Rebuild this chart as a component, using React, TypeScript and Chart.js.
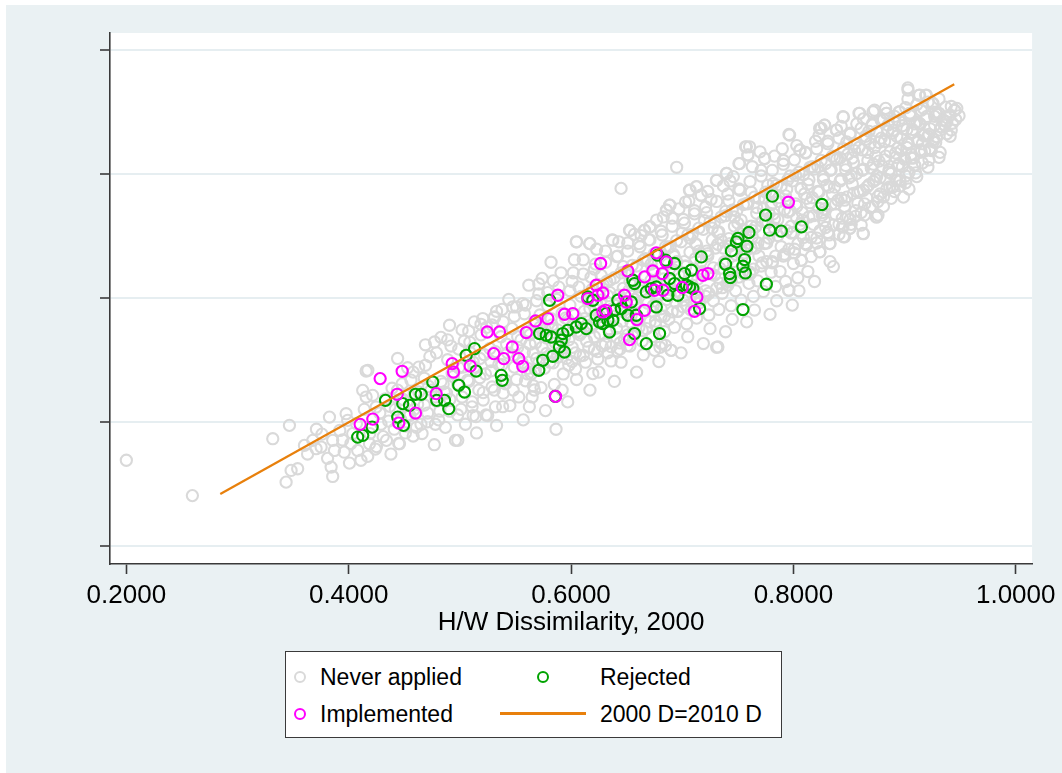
import React, { useEffect, useRef } from "react";
import { Chart, registerables } from "chart.js";

Chart.register(...registerables);

const xTicks = [0.2, 0.4, 0.6, 0.8, 1.0];
const yTicks = [0.2, 0.4, 0.6, 0.8, 1.0];
const xRange = [0.1853, 1.0147];
const yRange = [0.1718, 1.0274];
const xTitle = "H/W Dissimilarity, 2000";
const seriesNames = ["Never applied", "Rejected", "Implemented", "2000 D=2010 D"];
const equalityLineX = [0.2845, 0.9447];

const neverApplied: number[][] = [
  [0.2, 0.339], [0.2594, 0.282], [0.3317, 0.3737], [0.3467, 0.3952], [0.3437, 0.3037], [0.3541, 0.3253], [0.3482, 0.3226],
  [0.3602, 0.3629], [0.3677, 0.371], [0.3707, 0.3576], [0.3752, 0.3602], [0.3827, 0.4085], [0.3856, 0.371], [0.3872, 0.3548],
  [0.3842, 0.3279], [0.3856, 0.3129], [0.3977, 0.414], [0.3991, 0.4032], [0.4036, 0.3818], [0.4081, 0.3548], [0.4007, 0.3344],
  [0.4171, 0.3452], [0.4187, 0.3656], [0.4157, 0.4827], [0.4126, 0.4516], [0.4157, 0.4408], [0.4216, 0.4435], [0.4247, 0.4247],
  [0.4457, 0.3656], [0.4981, 0.371], [0.5145, 0.4092], [0.5235, 0.4119], [0.5385, 0.4253], [0.5625, 0.4253], [0.567, 0.4522],
  [0.5865, 0.3889], [0.3945, 0.3716], [0.4172, 0.4839], [0.4907, 0.5565], [0.4772, 0.5295], [0.5206, 0.5673], [0.5312, 0.5698],
  [0.5476, 0.586], [0.5566, 0.5915],
  [0.695, 0.811], [0.645, 0.777], [0.7577, 0.844], [0.7591, 0.8306], [0.7516, 0.817], [0.7397, 0.801], [0.7307, 0.79],
  [0.7127, 0.7795], [0.7065, 0.774], [0.717, 0.7661], [0.6886, 0.75], [0.6857, 0.742], [0.6707, 0.715], [0.6661, 0.7097],
  [0.6526, 0.7097], [0.6376, 0.6935], [0.6167, 0.688], [0.6047, 0.691],
  [0.9031, 0.9355], [0.9136, 0.9274], [0.9196, 0.9274], [0.9256, 0.914], [0.945, 0.903], [0.9406, 0.895], [0.9346, 0.887],
  [0.9361, 0.879], [0.9287, 0.86], [0.9226, 0.841], [0.9091, 0.8145], [0.8956, 0.79], [0.8866, 0.7795], [0.8761, 0.734],
  [0.8626, 0.7044], [0.8506, 0.7125], [0.8446, 0.715], [0.8716, 0.9005], [0.8596, 0.898], [0.8446, 0.8925], [0.8386, 0.871],
  [0.8956, 0.9005], [0.9046, 0.898], [0.8836, 0.8979], [0.8281, 0.879], [0.8236, 0.8737], [0.7966, 0.8629], [0.8056, 0.8387],
  [0.7741, 0.8253], [0.7606, 0.844], [0.8746, 0.731], [0.8461, 0.6989], [0.8326, 0.6882], [0.8236, 0.6747], [0.8072, 0.6613],
  [0.8896, 0.7795], [0.8926, 0.79], [0.7957, 0.6129], [0.7321, 0.5215], [0.6902, 0.516], [0.6812, 0.527], [0.6752, 0.516],
  [0.6196, 0.4786], [0.6416, 0.5155], [0.6506, 0.5236],
  [0.421, 0.392], [0.428, 0.415], [0.425, 0.361], [0.433, 0.438], [0.436, 0.402], [0.431, 0.377], [0.439, 0.455], [0.438, 0.349],
  [0.442, 0.421], [0.445, 0.366], [0.448, 0.462], [0.451, 0.394], [0.447, 0.437], [0.455, 0.411], [0.458, 0.378], [0.453, 0.488], [0.459, 0.447], [0.444, 0.503],
  [0.462, 0.429], [0.465, 0.397], [0.468, 0.471], [0.471, 0.415], [0.466, 0.382], [0.474, 0.452], [0.477, 0.364], [0.473, 0.506], [0.479, 0.434], [0.463, 0.489], [0.478, 0.397], [0.469, 0.525],
  [0.482, 0.418], [0.485, 0.462], [0.487, 0.392], [0.489, 0.501], [0.491, 0.437], [0.494, 0.474], [0.496, 0.371], [0.483, 0.537], [0.498, 0.412], [0.492, 0.523], [0.486, 0.449], [0.499, 0.488],
  [0.502, 0.441], [0.505, 0.397], [0.507, 0.468], [0.509, 0.513], [0.511, 0.425], [0.513, 0.489], [0.515, 0.383], [0.504, 0.531], [0.517, 0.452], [0.519, 0.558], [0.512, 0.411], [0.508, 0.547], [0.518, 0.503],
  [0.521, 0.436], [0.523, 0.478], [0.525, 0.411], [0.527, 0.519], [0.529, 0.457], [0.531, 0.569], [0.533, 0.395], [0.535, 0.493], [0.537, 0.538], [0.539, 0.447], [0.524, 0.553], [0.532, 0.425], [0.538, 0.582], [0.528, 0.498],
  [0.541, 0.468], [0.543, 0.512], [0.545, 0.427], [0.547, 0.551], [0.549, 0.489], [0.551, 0.586], [0.553, 0.441], [0.555, 0.533], [0.557, 0.404], [0.559, 0.467], [0.544, 0.598], [0.552, 0.521], [0.558, 0.575], [0.548, 0.452], [0.556, 0.496],
  [0.561, 0.478], [0.563, 0.526], [0.565, 0.441], [0.567, 0.562], [0.569, 0.503], [0.571, 0.607], [0.573, 0.456], [0.575, 0.544], [0.577, 0.419], [0.579, 0.588], [0.562, 0.621], [0.568, 0.485], [0.574, 0.632], [0.578, 0.511], [0.566, 0.459], [0.572, 0.573],
  [0.581, 0.497], [0.583, 0.552], [0.585, 0.461], [0.587, 0.598], [0.589, 0.523], [0.591, 0.641], [0.593, 0.478], [0.595, 0.568], [0.597, 0.433], [0.599, 0.612], [0.582, 0.658], [0.588, 0.505], [0.594, 0.537], [0.598, 0.492], [0.584, 0.628], [0.592, 0.452],
  [0.601, 0.521], [0.603, 0.573], [0.605, 0.469], [0.605, 0.691], [0.607, 0.618], [0.609, 0.544], [0.611, 0.662], [0.613, 0.497], [0.615, 0.596], [0.617, 0.688], [0.617, 0.452], [0.619, 0.558], [0.602, 0.641], [0.608, 0.507], [0.614, 0.531], [0.618, 0.634], [0.604, 0.486], [0.612, 0.579],
  [0.621, 0.538], [0.623, 0.592], [0.625, 0.481], [0.627, 0.637], [0.629, 0.563], [0.631, 0.676], [0.633, 0.512], [0.635, 0.609], [0.637, 0.694], [0.639, 0.466], [0.622, 0.655], [0.628, 0.523], [0.634, 0.548], [0.638, 0.581], [0.624, 0.502], [0.632, 0.627], [0.636, 0.499], [0.626, 0.571],
  [0.641, 0.552], [0.643, 0.605], [0.645, 0.497], [0.647, 0.651], [0.649, 0.576], [0.651, 0.689], [0.653, 0.709], [0.653, 0.523], [0.655, 0.621], [0.657, 0.703], [0.659, 0.481], [0.642, 0.668], [0.648, 0.534], [0.654, 0.561], [0.658, 0.593], [0.644, 0.518], [0.652, 0.639], [0.656, 0.545], [0.646, 0.587],
  [0.661, 0.567], [0.663, 0.621], [0.665, 0.509], [0.666, 0.709], [0.667, 0.664], [0.669, 0.592], [0.671, 0.715], [0.673, 0.538], [0.675, 0.641], [0.677, 0.726], [0.679, 0.498], [0.662, 0.683], [0.668, 0.551], [0.674, 0.578], [0.678, 0.607], [0.664, 0.531], [0.672, 0.655], [0.676, 0.563], [0.67, 0.694], [0.68, 0.521],
  [0.681, 0.583], [0.683, 0.638], [0.685, 0.524], [0.686, 0.742], [0.687, 0.681], [0.689, 0.607], [0.689, 0.75], [0.69, 0.516], [0.691, 0.729], [0.693, 0.553], [0.695, 0.659], [0.697, 0.744], [0.699, 0.512], [0.682, 0.702], [0.688, 0.566], [0.694, 0.594], [0.698, 0.624], [0.684, 0.546], [0.692, 0.671], [0.696, 0.579], [0.7, 0.705],
  [0.701, 0.597], [0.703, 0.652], [0.705, 0.538], [0.707, 0.774], [0.707, 0.697], [0.709, 0.621], [0.711, 0.741], [0.713, 0.568], [0.713, 0.78], [0.715, 0.676], [0.717, 0.766], [0.719, 0.527], [0.702, 0.721], [0.708, 0.581], [0.714, 0.609], [0.718, 0.641], [0.704, 0.559], [0.712, 0.688], [0.716, 0.593], [0.72, 0.725], [0.706, 0.757],
  [0.721, 0.612], [0.723, 0.668], [0.725, 0.551], [0.727, 0.713], [0.729, 0.637], [0.731, 0.79], [0.731, 0.521], [0.733, 0.582], [0.735, 0.694], [0.737, 0.781], [0.739, 0.546], [0.74, 0.801], [0.722, 0.738], [0.728, 0.596], [0.734, 0.624], [0.738, 0.657], [0.724, 0.573], [0.732, 0.706], [0.736, 0.608], [0.726, 0.759], [0.73, 0.681], [0.739, 0.74],
  [0.741, 0.627], [0.743, 0.684], [0.745, 0.566], [0.747, 0.731], [0.749, 0.652], [0.751, 0.817], [0.752, 0.774], [0.753, 0.597], [0.755, 0.711], [0.757, 0.844], [0.759, 0.831], [0.758, 0.562], [0.742, 0.757], [0.748, 0.612], [0.754, 0.641], [0.756, 0.673], [0.744, 0.588], [0.75, 0.721], [0.746, 0.796], [0.76, 0.624], [0.758, 0.753], [0.752, 0.69],
  [0.761, 0.642], [0.763, 0.699], [0.765, 0.581], [0.767, 0.746], [0.769, 0.668], [0.771, 0.806], [0.773, 0.611], [0.774, 0.825], [0.775, 0.725], [0.777, 0.782], [0.779, 0.574], [0.762, 0.771], [0.768, 0.628], [0.772, 0.657], [0.776, 0.689], [0.764, 0.603], [0.778, 0.737], [0.766, 0.715], [0.77, 0.836], [0.78, 0.642], [0.774, 0.762], [0.762, 0.681],
  [0.781, 0.657], [0.783, 0.713], [0.785, 0.596], [0.787, 0.762], [0.789, 0.683], [0.791, 0.822], [0.793, 0.627], [0.795, 0.739], [0.796, 0.864], [0.796, 0.613], [0.797, 0.797], [0.799, 0.589], [0.782, 0.785], [0.788, 0.643], [0.792, 0.671], [0.798, 0.705], [0.784, 0.619], [0.794, 0.776], [0.786, 0.727], [0.79, 0.841], [0.8, 0.656], [0.78, 0.751],
  [0.801, 0.673], [0.803, 0.729], [0.805, 0.612], [0.806, 0.839], [0.807, 0.776], [0.807, 0.661], [0.809, 0.698], [0.811, 0.835], [0.813, 0.643], [0.815, 0.754], [0.817, 0.812], [0.819, 0.627], [0.802, 0.798], [0.808, 0.738], [0.812, 0.686], [0.818, 0.719], [0.804, 0.633], [0.814, 0.791], [0.816, 0.667], [0.82, 0.853], [0.81, 0.768], [0.8, 0.706],
  [0.821, 0.689], [0.823, 0.745], [0.824, 0.675], [0.825, 0.874], [0.827, 0.791], [0.828, 0.879], [0.829, 0.714], [0.831, 0.853], [0.833, 0.659], [0.833, 0.688], [0.835, 0.768], [0.837, 0.826], [0.839, 0.871], [0.822, 0.812], [0.826, 0.734], [0.832, 0.702], [0.838, 0.735], [0.834, 0.807], [0.836, 0.651], [0.84, 0.758], [0.83, 0.782], [0.828, 0.725],
  [0.841, 0.703], [0.843, 0.761], [0.845, 0.699], [0.845, 0.892], [0.847, 0.807], [0.849, 0.731], [0.851, 0.864], [0.851, 0.713], [0.853, 0.784], [0.855, 0.838], [0.857, 0.881], [0.859, 0.898], [0.842, 0.826], [0.846, 0.748], [0.852, 0.719], [0.858, 0.753], [0.844, 0.715], [0.854, 0.819], [0.856, 0.732], [0.86, 0.772], [0.848, 0.852], [0.85, 0.794],
  [0.861, 0.718], [0.863, 0.774], [0.863, 0.704], [0.865, 0.856], [0.867, 0.822], [0.869, 0.746], [0.871, 0.879], [0.873, 0.903], [0.875, 0.731], [0.875, 0.797], [0.877, 0.851], [0.879, 0.887], [0.862, 0.839], [0.866, 0.762], [0.872, 0.788], [0.878, 0.768], [0.864, 0.734], [0.874, 0.829], [0.876, 0.756], [0.88, 0.812], [0.868, 0.869], [0.87, 0.81],
  [0.881, 0.748], [0.883, 0.792], [0.884, 0.898], [0.885, 0.869], [0.887, 0.836], [0.889, 0.779], [0.891, 0.884], [0.893, 0.79], [0.895, 0.9], [0.895, 0.816], [0.897, 0.857], [0.899, 0.763], [0.882, 0.853], [0.886, 0.807], [0.892, 0.827], [0.898, 0.878], [0.888, 0.761], [0.894, 0.842], [0.896, 0.781], [0.9, 0.824], [0.89, 0.871],
  [0.901, 0.797], [0.903, 0.939], [0.903, 0.848], [0.905, 0.898], [0.907, 0.867], [0.909, 0.814], [0.911, 0.884], [0.913, 0.927], [0.915, 0.836], [0.917, 0.906], [0.919, 0.927], [0.902, 0.872], [0.906, 0.832], [0.912, 0.855], [0.918, 0.863], [0.904, 0.776], [0.914, 0.881], [0.916, 0.849], [0.92, 0.893], [0.91, 0.802],
  [0.921, 0.861], [0.923, 0.841], [0.925, 0.914], [0.927, 0.879], [0.929, 0.86], [0.931, 0.898], [0.933, 0.876], [0.935, 0.887], [0.936, 0.879], [0.937, 0.908], [0.922, 0.823], [0.926, 0.852], [0.932, 0.835], [0.938, 0.865], [0.928, 0.9],
  [0.941, 0.895], [0.943, 0.882], [0.945, 0.903], [0.947, 0.906], [0.949, 0.894], [0.942, 0.871], [0.946, 0.888],
  [0.392, 0.387], [0.396, 0.352], [0.402, 0.366], [0.407, 0.398], [0.411, 0.339], [0.414, 0.421], [0.419, 0.382], [0.424, 0.357],
  [0.429, 0.397], [0.434, 0.371], [0.437, 0.426], [0.441, 0.389], [0.444, 0.452], [0.447, 0.404], [0.376, 0.381], [0.381, 0.342],
  [0.363, 0.349], [0.371, 0.389],
  [0.451, 0.383], [0.453, 0.412], [0.449, 0.437], [0.456, 0.468], [0.461, 0.392], [0.459, 0.421], [0.463, 0.449], [0.458, 0.481],
  [0.471, 0.401], [0.468, 0.428], [0.472, 0.458], [0.469, 0.492], [0.481, 0.404], [0.478, 0.441], [0.483, 0.466], [0.479, 0.512],
  [0.491, 0.418], [0.488, 0.447], [0.493, 0.479], [0.489, 0.533], [0.501, 0.421], [0.498, 0.462], [0.503, 0.489], [0.499, 0.518],
  [0.502, 0.549], [0.511, 0.433], [0.508, 0.466], [0.512, 0.497], [0.509, 0.529], [0.513, 0.562], [0.521, 0.448], [0.518, 0.472],
  [0.522, 0.509], [0.519, 0.541], [0.531, 0.452], [0.528, 0.483], [0.532, 0.514], [0.529, 0.557], [0.533, 0.579], [0.541, 0.462],
  [0.538, 0.493], [0.542, 0.526], [0.539, 0.562], [0.551, 0.469], [0.548, 0.508], [0.552, 0.538], [0.549, 0.571], [0.561, 0.487],
  [0.558, 0.513], [0.562, 0.547], [0.559, 0.589], [0.571, 0.496], [0.568, 0.528], [0.572, 0.553], [0.569, 0.596], [0.571, 0.623],
  [0.581, 0.508], [0.578, 0.536], [0.582, 0.567], [0.579, 0.609], [0.591, 0.512], [0.588, 0.549], [0.592, 0.576], [0.589, 0.618],
  [0.601, 0.498], [0.598, 0.533], [0.602, 0.558], [0.599, 0.589], [0.601, 0.627], [0.603, 0.662], [0.611, 0.508], [0.608, 0.541],
  [0.612, 0.567], [0.609, 0.603], [0.611, 0.639], [0.621, 0.517], [0.618, 0.553], [0.622, 0.581], [0.619, 0.614], [0.621, 0.647],
  [0.623, 0.679], [0.631, 0.526], [0.628, 0.559], [0.632, 0.594], [0.629, 0.621], [0.631, 0.658], [0.641, 0.537], [0.638, 0.571],
  [0.642, 0.598], [0.639, 0.633], [0.641, 0.667], [0.643, 0.691], [0.651, 0.541], [0.648, 0.581], [0.652, 0.612], [0.649, 0.643],
  [0.651, 0.676], [0.661, 0.553], [0.658, 0.589], [0.662, 0.618], [0.659, 0.652], [0.661, 0.688], [0.663, 0.701], [0.671, 0.562],
  [0.668, 0.597], [0.672, 0.629], [0.669, 0.661], [0.671, 0.694], [0.681, 0.571], [0.678, 0.603], [0.682, 0.639], [0.679, 0.672],
  [0.681, 0.708], [0.683, 0.731], [0.691, 0.578], [0.688, 0.614], [0.692, 0.646], [0.689, 0.683], [0.691, 0.716], [0.701, 0.586],
  [0.698, 0.622], [0.702, 0.659], [0.699, 0.691], [0.701, 0.727], [0.703, 0.755], [0.711, 0.598], [0.708, 0.631], [0.712, 0.664],
  [0.709, 0.703], [0.711, 0.736], [0.721, 0.603], [0.718, 0.643], [0.722, 0.676], [0.719, 0.711], [0.721, 0.747], [0.723, 0.772],
  [0.731, 0.616], [0.728, 0.649], [0.732, 0.687], [0.729, 0.722], [0.731, 0.756], [0.741, 0.621], [0.738, 0.659], [0.742, 0.696],
  [0.739, 0.733], [0.741, 0.768], [0.743, 0.789], [0.751, 0.634], [0.748, 0.671], [0.752, 0.704], [0.749, 0.741], [0.751, 0.776],
  [0.761, 0.639], [0.758, 0.678], [0.762, 0.716], [0.759, 0.752], [0.761, 0.788], [0.763, 0.812], [0.771, 0.652], [0.768, 0.689],
  [0.772, 0.724], [0.769, 0.761], [0.771, 0.797], [0.781, 0.659], [0.778, 0.697], [0.782, 0.736], [0.779, 0.772], [0.781, 0.806],
  [0.783, 0.829], [0.791, 0.668], [0.788, 0.708], [0.792, 0.743], [0.789, 0.781], [0.791, 0.816], [0.801, 0.679], [0.798, 0.716],
  [0.802, 0.752], [0.799, 0.789], [0.801, 0.823], [0.803, 0.846], [0.811, 0.688], [0.808, 0.726], [0.812, 0.761], [0.809, 0.799],
  [0.811, 0.834], [0.821, 0.697], [0.818, 0.733], [0.822, 0.772], [0.819, 0.808], [0.821, 0.841], [0.823, 0.862], [0.831, 0.706],
  [0.828, 0.744], [0.832, 0.779], [0.829, 0.817], [0.831, 0.849], [0.841, 0.719], [0.838, 0.752], [0.842, 0.789], [0.839, 0.824],
  [0.841, 0.858], [0.843, 0.877], [0.851, 0.727], [0.848, 0.763], [0.852, 0.797], [0.849, 0.832], [0.851, 0.866], [0.861, 0.738],
  [0.858, 0.771], [0.862, 0.806], [0.859, 0.843], [0.861, 0.874], [0.863, 0.889], [0.871, 0.748], [0.868, 0.783], [0.872, 0.816],
  [0.869, 0.849], [0.871, 0.881], [0.881, 0.763], [0.878, 0.794], [0.882, 0.823], [0.879, 0.858], [0.881, 0.888], [0.883, 0.906],
  [0.891, 0.772], [0.888, 0.801], [0.892, 0.834], [0.889, 0.866], [0.891, 0.893], [0.901, 0.786], [0.898, 0.812], [0.902, 0.843],
  [0.899, 0.873], [0.901, 0.907], [0.903, 0.921], [0.911, 0.796], [0.908, 0.826], [0.912, 0.852], [0.909, 0.881], [0.911, 0.912],
  [0.921, 0.811], [0.918, 0.837], [0.922, 0.864], [0.919, 0.889], [0.921, 0.916], [0.931, 0.827], [0.928, 0.851], [0.932, 0.871],
  [0.929, 0.896], [0.931, 0.921], [0.941, 0.861], [0.938, 0.884], [0.942, 0.909],
  [0.564, 0.478], [0.566, 0.512], [0.563, 0.541], [0.576, 0.487], [0.574, 0.521], [0.577, 0.549], [0.584, 0.496], [0.586, 0.528],
  [0.583, 0.557], [0.596, 0.503], [0.594, 0.539], [0.597, 0.566], [0.604, 0.512], [0.606, 0.547], [0.603, 0.574], [0.616, 0.521],
  [0.614, 0.556], [0.617, 0.583],
  [0.624, 0.514], [0.626, 0.543], [0.623, 0.568], [0.627, 0.597], [0.625, 0.622], [0.636, 0.522], [0.634, 0.551], [0.637, 0.583],
  [0.633, 0.604], [0.635, 0.629], [0.644, 0.528], [0.646, 0.563], [0.643, 0.591], [0.647, 0.616], [0.645, 0.641], [0.656, 0.539],
  [0.654, 0.572], [0.657, 0.598], [0.653, 0.627], [0.655, 0.653], [0.664, 0.548], [0.666, 0.579], [0.663, 0.612], [0.667, 0.634],
  [0.665, 0.661], [0.676, 0.557], [0.674, 0.588], [0.677, 0.623], [0.673, 0.646], [0.675, 0.672], [0.684, 0.571], [0.686, 0.598],
  [0.683, 0.631], [0.687, 0.655], [0.685, 0.683], [0.696, 0.579], [0.694, 0.611], [0.697, 0.638], [0.693, 0.667], [0.695, 0.693],
  [0.704, 0.588], [0.706, 0.619], [0.703, 0.651], [0.707, 0.674], [0.705, 0.702], [0.716, 0.597], [0.714, 0.631], [0.717, 0.659],
  [0.713, 0.686], [0.715, 0.713], [0.724, 0.608], [0.726, 0.639], [0.723, 0.672], [0.727, 0.694], [0.725, 0.723], [0.736, 0.617],
  [0.734, 0.648], [0.737, 0.681], [0.733, 0.707], [0.735, 0.731], [0.744, 0.629], [0.746, 0.659], [0.743, 0.688], [0.747, 0.716],
  [0.745, 0.742], [0.756, 0.638], [0.754, 0.667], [0.757, 0.702], [0.753, 0.726], [0.755, 0.751], [0.764, 0.647], [0.766, 0.681],
  [0.763, 0.709], [0.767, 0.737], [0.765, 0.763], [0.776, 0.659], [0.774, 0.688], [0.777, 0.722], [0.773, 0.744], [0.775, 0.771],
  [0.784, 0.668], [0.786, 0.701], [0.783, 0.728], [0.787, 0.756], [0.785, 0.782], [0.796, 0.679], [0.794, 0.709], [0.797, 0.741],
  [0.793, 0.765], [0.795, 0.791], [0.804, 0.688], [0.806, 0.719], [0.803, 0.748], [0.807, 0.777], [0.805, 0.803], [0.816, 0.698],
  [0.814, 0.731], [0.817, 0.762], [0.813, 0.784], [0.815, 0.811], [0.824, 0.709], [0.826, 0.738], [0.823, 0.771], [0.827, 0.796],
  [0.825, 0.822], [0.836, 0.718], [0.834, 0.751], [0.837, 0.779], [0.833, 0.806], [0.835, 0.829], [0.844, 0.729], [0.846, 0.758],
  [0.843, 0.792], [0.847, 0.814], [0.845, 0.841], [0.856, 0.741], [0.854, 0.769], [0.857, 0.801], [0.853, 0.826], [0.855, 0.849],
  [0.864, 0.752], [0.866, 0.779], [0.863, 0.808], [0.867, 0.835], [0.865, 0.861], [0.876, 0.764], [0.874, 0.791], [0.877, 0.821],
  [0.873, 0.843], [0.875, 0.869], [0.884, 0.776], [0.886, 0.803], [0.883, 0.829], [0.887, 0.854], [0.885, 0.879], [0.896, 0.789],
  [0.894, 0.814], [0.897, 0.838], [0.893, 0.861], [0.895, 0.886], [0.904, 0.803], [0.906, 0.826], [0.903, 0.851], [0.907, 0.872],
  [0.905, 0.894], [0.916, 0.818], [0.914, 0.839], [0.917, 0.862], [0.913, 0.882], [0.915, 0.903], [0.924, 0.838], [0.926, 0.856],
  [0.923, 0.873], [0.927, 0.893],
];

const rejected: number[][] = [
  [0.4081, 0.3763], [0.4126, 0.379], [0.4211, 0.3924], [0.4331, 0.4355], [0.4441, 0.4085], [0.4493, 0.3952], [0.4486, 0.4302],
  [0.4547, 0.4274], [0.4601, 0.4452], [0.4652, 0.4452], [0.4756, 0.465], [0.4792, 0.4355], [0.4862, 0.4355], [0.49, 0.4221],
  [0.499, 0.4597], [0.5042, 0.4489], [0.5057, 0.5081], [0.5132, 0.5189], [0.5147, 0.4827], [0.5372, 0.4758], [0.5381, 0.4677],
  [0.571, 0.4839], [0.5746, 0.5], [0.5717, 0.5431], [0.5777, 0.5403], [0.5822, 0.5376], [0.5896, 0.5215], [0.5941, 0.5134],
  [0.5807, 0.5968], [0.5858, 0.4419], [0.5926, 0.5431], [0.5971, 0.5484], [0.6047, 0.5537], [0.6092, 0.5592], [0.6137, 0.5511],
  [0.6151, 0.6021], [0.6196, 0.5968], [0.6227, 0.5726], [0.6256, 0.5618], [0.6317, 0.5753], [0.6331, 0.5645], [0.6346, 0.5456],
  [0.6286, 0.5592], [0.6376, 0.5645], [0.6391, 0.5806], [0.6421, 0.5968], [0.6452, 0.5834], [0.6511, 0.5726], [0.6542, 0.594],
  [0.6587, 0.5726], [0.6571, 0.5431], [0.6677, 0.5269], [0.6796, 0.5431], [0.6556, 0.629], [0.6571, 0.6237], [0.6677, 0.6102],
  [0.6722, 0.6156], [0.6767, 0.6182], [0.6781, 0.6694], [0.685, 0.6613], [0.6931, 0.656], [0.6767, 0.586], [0.6886, 0.6318],
  [0.6931, 0.6237], [0.7021, 0.6398], [0.7082, 0.6452], [0.6961, 0.6048], [0.7037, 0.621], [0.7096, 0.6156], [0.7172, 0.6666],
  [0.7156, 0.5834], [0.6871, 0.6048], [0.739, 0.6548], [0.7426, 0.6398], [0.7433, 0.6334], [0.7442, 0.6763], [0.7487, 0.6908],
  [0.7501, 0.6963], [0.76, 0.706], [0.7582, 0.6839], [0.7561, 0.6624], [0.7546, 0.6516], [0.7568, 0.6408], [0.7546, 0.5818],
  [0.7757, 0.6226], [0.7811, 0.7645], [0.775, 0.7339], [0.7786, 0.7097], [0.7891, 0.7081], [0.8072, 0.715], [0.8257, 0.7511],
  [0.7066, 0.6182], [0.5912, 0.5323], [0.5836, 0.5065],
];

const implemented: number[][] = [
  [0.4103, 0.3968], [0.4217, 0.4053], [0.4283, 0.4705], [0.4481, 0.4823], [0.4436, 0.4452], [0.445, 0.3989], [0.4601, 0.415],
  [0.4787, 0.4463], [0.4931, 0.4947], [0.4943, 0.4811], [0.5093, 0.4908], [0.5246, 0.5456], [0.5357, 0.5456], [0.5305, 0.5108],
  [0.5395, 0.5027], [0.5471, 0.5215], [0.553, 0.5027], [0.5566, 0.4903], [0.5597, 0.5447], [0.5681, 0.5634], [0.5791, 0.5673],
  [0.5941, 0.5742], [0.6016, 0.5753], [0.5861, 0.4419], [0.5881, 0.6048], [0.6151, 0.5995], [0.6241, 0.6048], [0.6286, 0.6085],
  [0.6227, 0.621], [0.6266, 0.656], [0.6286, 0.5779], [0.6311, 0.5806], [0.6481, 0.6048], [0.6497, 0.594], [0.6511, 0.644],
  [0.6661, 0.6344], [0.6736, 0.644], [0.6661, 0.5806], [0.6592, 0.5656], [0.6526, 0.5334], [0.6767, 0.6731], [0.6751, 0.6129],
  [0.6826, 0.6129], [0.6821, 0.6398], [0.6857, 0.6585], [0.7001, 0.6173], [0.7132, 0.6021], [0.7111, 0.579], [0.7186, 0.6371],
  [0.7231, 0.6398], [0.7955, 0.7548],
];

const FONT = "'Liberation Sans', Arial, Helvetica, sans-serif";
const GREY = "#D9D9D9";
const GREEN = "#00A300";
const MAGENTA = "#FF00FF";
const ORANGE = "#E8800C";
const PANEL = "#EAF1F3";
const AXIS = "#3A3A3A";

const toPts = (arr: number[][]) => arr.map(([x, y]) => ({ x, y }));

const plotBg = {
  id: "plotBg",
  beforeDraw(chart: any) {
    const { ctx, chartArea } = chart;
    ctx.save();
    ctx.fillStyle = "#FFFFFF";
    ctx.fillRect(chartArea.left, chartArea.top, chartArea.right - chartArea.left, chartArea.bottom - chartArea.top);
    ctx.restore();
  },
};

function Marker({ cx, cy, color }: { cx: number; cy: number; color: string }) {
  return (
    <div
      style={{
        position: "absolute",
        left: cx - 6,
        top: cy - 6,
        width: 8,
        height: 8,
        border: `2px solid ${color}`,
        borderRadius: "50%",
      }}
    />
  );
}

function Label({ x, cy, text }: { x: number; cy: number; text: string }) {
  return (
    <div
      style={{
        position: "absolute",
        left: x,
        top: cy - 14,
        height: 28,
        lineHeight: "28px",
        fontFamily: FONT,
        fontSize: 23,
        color: "#000",
        whiteSpace: "nowrap",
      }}
    >
      {text}
    </div>
  );
}

export default function App() {
  const canvasRef = useRef<HTMLCanvasElement | null>(null);

  useEffect(() => {
    const canvas = canvasRef.current;
    if (!canvas) return;
    const pointStyle = (color: string, order: number, label: string, data: number[][]) => ({
      label,
      data: toPts(data),
      order,
      pointStyle: "circle",
      pointRadius: 5.6,
      pointBorderWidth: 2.1,
      pointBackgroundColor: "rgba(0,0,0,0)",
      pointBorderColor: color,
      borderColor: color,
      backgroundColor: "rgba(0,0,0,0)",
      showLine: false,
    });
    const chart = new Chart(canvas, {
      type: "scatter",
      data: {
        datasets: [
          pointStyle(GREY, 3, seriesNames[0], neverApplied),
          pointStyle(GREEN, 2, seriesNames[1], rejected),
          pointStyle(MAGENTA, 1, seriesNames[2], implemented),
          {
            label: seriesNames[3],
            data: equalityLineX.map((v) => ({ x: v, y: v })),
            order: 0,
            showLine: true,
            borderColor: ORANGE,
            borderWidth: 2.2,
            pointRadius: 0,
            backgroundColor: ORANGE,
          } as any,
        ],
      },
      options: {
        animation: false,
        responsive: false,
        devicePixelRatio: 1,
        events: [],
        layout: { padding: { left: 0, top: 33, right: 28, bottom: 133 } },
        plugins: { legend: { display: false }, tooltip: { enabled: false } },
        scales: {
          x: {
            type: "linear",
            min: xRange[0],
            max: xRange[1],
            afterBuildTicks: (axis: any) => {
              axis.ticks = xTicks.map((v) => ({ value: v }));
            },
            afterFit: (axis: any) => {
              axis.height = 76;
            },
            ticks: {
              autoSkip: false,
              maxRotation: 0,
              padding: 6,
              color: "#000",
              font: { family: FONT, size: 26 },
              callback: (v: any) => Number(v).toFixed(4),
            },
            grid: {
              drawOnChartArea: false,
              drawTicks: true,
              tickLength: 10,
              tickColor: AXIS,
              tickWidth: 1.6,
              color: AXIS,
            },
            border: { display: true, color: AXIS, width: 1.6 },
            title: {
              display: true,
              text: xTitle,
              color: "#000",
              font: { family: FONT, size: 26 },
              padding: { top: 0, bottom: 2 },
            },
          },
          y: {
            type: "linear",
            min: yRange[0],
            max: yRange[1],
            afterBuildTicks: (axis: any) => {
              axis.ticks = yTicks.map((v) => ({ value: v }));
            },
            afterFit: (axis: any) => {
              axis.width = 110;
            },
            ticks: {
              display: true,
              callback: () => "",
            },
            grid: {
              drawOnChartArea: true,
              drawTicks: true,
              tickLength: 10,
              color: "#E6EEF1",
              lineWidth: 2,
              tickColor: AXIS,
              tickWidth: 1.6,
            },
            border: { display: true, color: AXIS, width: 1.6 },
          },
        },
      },
      plugins: [plotBg],
    } as any);
    return () => chart.destroy();
  }, []);

  return (
    <div style={{ position: "fixed", left: 0, top: 0, width: 1062, height: 773, background: "#FFFFFF", overflow: "hidden" }}>
      <div style={{ position: "absolute", left: 6, top: 5, width: 1056, height: 768, background: PANEL }} />
      <canvas
        ref={canvasRef}
        width={1062}
        height={773}
        style={{ position: "absolute", left: 0, top: 0, width: 1062, height: 773 }}
      />
      <div
        style={{
          position: "absolute",
          left: 285,
          top: 651,
          width: 495,
          height: 85,
          background: "#FFFFFF",
          border: `1.5px solid ${AXIS}`,
        }}
      />
      <Marker cx={300} cy={677} color={GREY} />
      <Label x={320} cy={677} text={seriesNames[0]} />
      <Marker cx={543} cy={677} color={GREEN} />
      <Label x={600} cy={677} text={seriesNames[1]} />
      <Marker cx={300} cy={714} color={MAGENTA} />
      <Label x={320} cy={714} text={seriesNames[2]} />
      <div style={{ position: "absolute", left: 500, top: 712, width: 86, height: 2.5, background: ORANGE }} />
      <Label x={600} cy={714} text={seriesNames[3]} />
    </div>
  );
}
